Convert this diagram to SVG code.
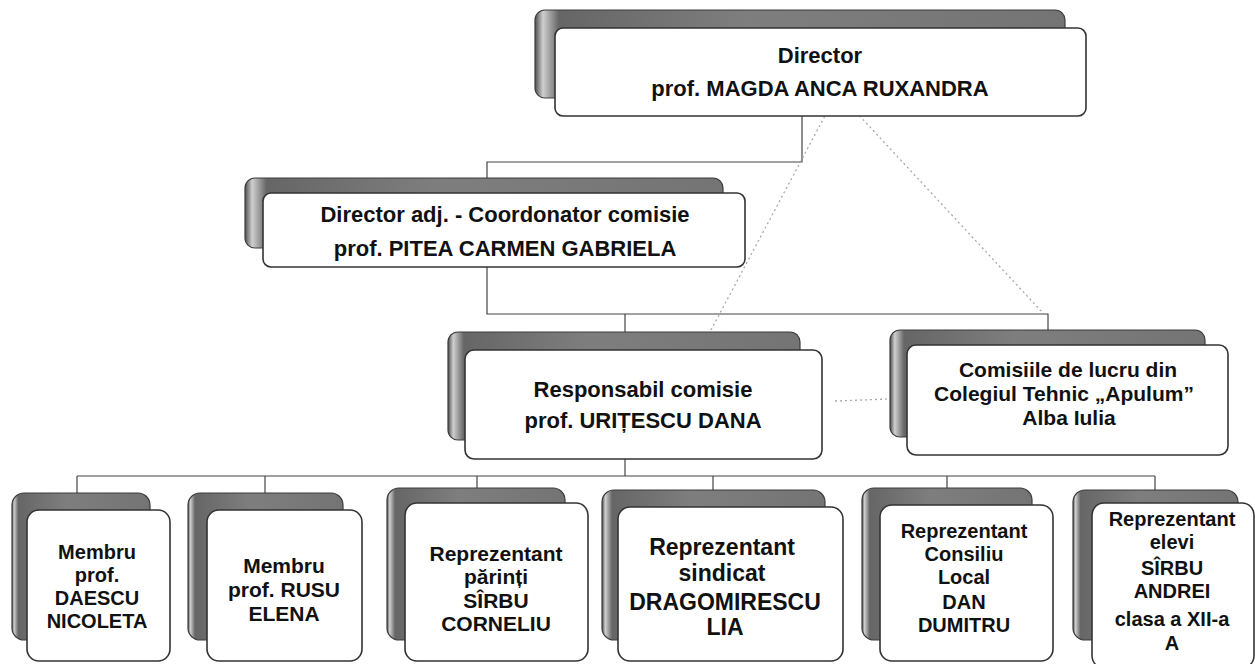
<svg xmlns="http://www.w3.org/2000/svg" width="1255" height="664" viewBox="0 0 1255 664">
<defs>
<linearGradient id="backG" x1="0" y1="0" x2="1" y2="0">
<stop offset="0" stop-color="#4e4e4e"/>
<stop offset="0.015" stop-color="#cfcfcf"/>
<stop offset="0.045" stop-color="#666"/>
<stop offset="0.4" stop-color="#7e7e7e"/>
<stop offset="1" stop-color="#747474"/>
</linearGradient>
<marker id="arr" markerWidth="6" markerHeight="6" refX="1" refY="3" orient="auto-start-reverse" markerUnits="userSpaceOnUse">
<path d="M0,0 L6,3 L0,6 z" fill="#999"/>
</marker>
</defs>
<style>
.back{fill:url(#backG);stroke:#3c3c3c;stroke-width:1.2}
.front{fill:#fff;stroke:#333;stroke-width:1.6}
.t{font-family:"Liberation Sans",Arial,sans-serif;font-weight:bold;fill:#111;text-anchor:middle}
.t22{font-size:22px}
.t21{font-size:21px}
.t20{font-size:20px}
.con{fill:none;stroke:#444;stroke-width:1.2}
.dot{fill:none;stroke:#a8a8a8;stroke-width:1.3;stroke-dasharray:2 3}
</style>
<rect width="1255" height="664" fill="#fff"/>

<g id="connectors">
<path class="con" d="M802,116 V162 H487 V179"/>
<path class="con" d="M487,267 V314 H1048 V331"/>
<path class="con" d="M625,314 V333"/>
<path class="con" d="M625,459 V476"/>
<path class="con" d="M77,476 H1155"/>
<path class="con" d="M77,476 V494"/>
<path class="con" d="M265,476 V494"/>
<path class="con" d="M477,476 V489"/>
<path class="con" d="M713,476 V491"/>
<path class="con" d="M947,476 V489"/>
<path class="con" d="M1155,476 V491"/>
<path class="dot" d="M827,112 L703,345" marker-start="url(#arr)"/>
<path class="dot" d="M856,112 L1042,312" marker-start="url(#arr)"/>
<path class="dot" d="M835,401 L916,398"/>
</g>

<g id="node-director">
<rect class="back" x="535" y="10" width="530" height="88" rx="10"/>
<rect class="front" x="555" y="28" width="531" height="88" rx="8"/>
<text class="t t22" x="820" y="63">Director</text>
<text class="t t22" x="820" y="96">prof. MAGDA ANCA RUXANDRA</text>
</g>

<g id="node-director-adj">
<rect class="back" x="245" y="178" width="478" height="70" rx="10"/>
<rect class="front" x="263" y="193" width="482" height="74" rx="8"/>
<text class="t t22" x="505" y="222">Director adj. - Coordonator comisie</text>
<text class="t t22" x="505" y="256">prof. PITEA CARMEN GABRIELA</text>
</g>

<g id="node-responsabil">
<rect class="back" x="448" y="332" width="352" height="108" rx="10"/>
<rect class="front" x="465" y="350" width="357" height="109" rx="9"/>
<text class="t t22" x="643" y="397">Responsabil comisie</text>
<text class="t t22" x="643" y="428">prof. URIȚESCU DANA</text>
</g>

<g id="node-comisiile">
<rect class="back" x="890" y="330" width="315" height="107" rx="10"/>
<rect class="front" x="907" y="345" width="321" height="110" rx="9"/>
<text class="t t21" x="1068" y="377">Comisiile de lucru din</text>
<text class="t t21" x="1064" y="401">Colegiul Tehnic „Apulum”</text>
<text class="t t21" x="1069" y="425">Alba Iulia</text>
</g>

<g id="node-membru-daescu">
<rect class="back" x="12" y="493" width="138" height="147" rx="12"/>
<rect class="front" x="27" y="510" width="143" height="151" rx="12"/>
<text class="t t20" x="97" y="559">Membru</text>
<text class="t t20" x="97" y="582">prof.</text>
<text class="t t20" x="97" y="605">DAESCU</text>
<text class="t t20" x="97" y="628">NICOLETA</text>
</g>

<g id="node-membru-rusu">
<rect class="back" x="188" y="493" width="155" height="147" rx="12"/>
<rect class="front" x="207" y="510" width="155" height="151" rx="12"/>
<text class="t t21" x="284" y="573">Membru</text>
<text class="t t21" x="284" y="597">prof. RUSU</text>
<text class="t t21" x="284" y="621">ELENA</text>
</g>

<g id="node-parinti">
<rect class="back" x="387" y="488" width="178" height="152" rx="12"/>
<rect class="front" x="405" y="503" width="183" height="158" rx="12"/>
<text class="t t21" x="496" y="561">Reprezentant</text>
<text class="t t21" x="496" y="584">părinți</text>
<text class="t t21" x="496" y="608">SÎRBU</text>
<text class="t t21" x="496" y="631">CORNELIU</text>
</g>

<g id="node-sindicat">
<rect class="back" x="602" y="490" width="223" height="150" rx="12"/>
<rect class="front" x="618" y="507" width="225" height="154" rx="12"/>
<text class="t" x="722" y="555" style="font-size:23px">Reprezentant</text>
<text class="t" x="722" y="581" style="font-size:23px">sindicat</text>
<text class="t" x="725" y="610" style="font-size:23px">DRAGOMIRESCU</text>
<text class="t" x="725" y="635" style="font-size:23px">LIA</text>
</g>

<g id="node-consiliu">
<rect class="back" x="862" y="488" width="170" height="152" rx="12"/>
<rect class="front" x="880" y="505" width="173" height="156" rx="12"/>
<text class="t t20" x="964" y="538">Reprezentant</text>
<text class="t t20" x="964" y="561">Consiliu</text>
<text class="t t20" x="964" y="584">Local</text>
<text class="t t20" x="964" y="609">DAN</text>
<text class="t t20" x="964" y="632">DUMITRU</text>
</g>

<g id="node-elevi">
<rect class="back" x="1073" y="490" width="165" height="150" rx="12"/>
<rect class="front" x="1092" y="503" width="162" height="165" rx="12"/>
<text class="t t20" x="1172" y="526">Reprezentant</text>
<text class="t t20" x="1172" y="549">elevi</text>
<text class="t t20" x="1172" y="575">SÎRBU</text>
<text class="t t20" x="1172" y="598">ANDREI</text>
<text class="t t20" x="1172" y="626">clasa a XII-a</text>
<text class="t t20" x="1172" y="650">A</text>
</g>
</svg>
